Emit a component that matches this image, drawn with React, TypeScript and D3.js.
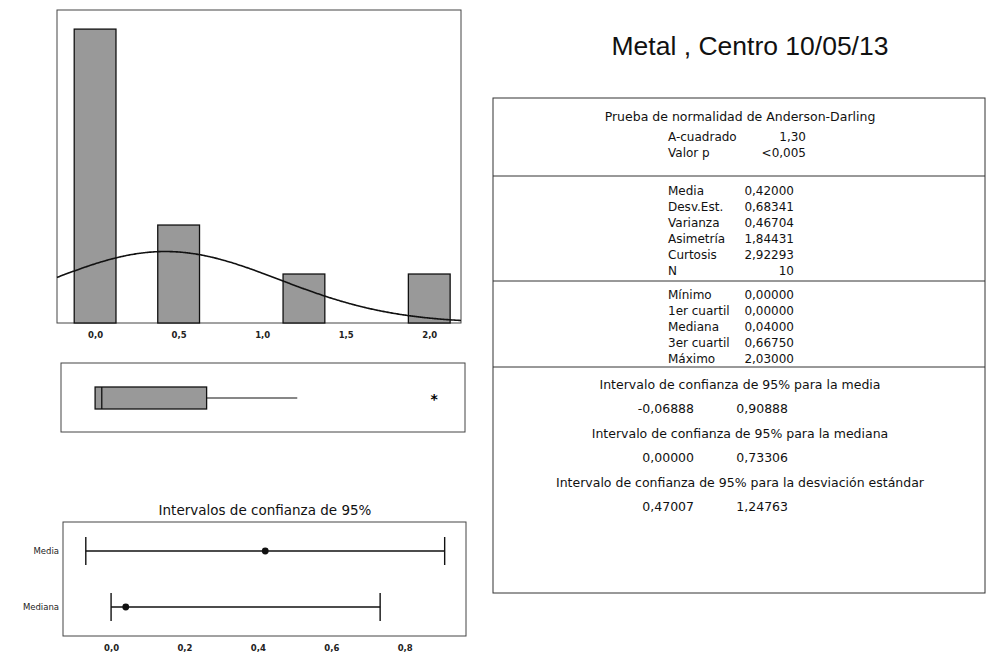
import { useEffect, useRef } from 'react';
import * as d3 from 'd3';

// histograma (ancho de clase 0,25)
const binCenters = [0, 0.5, 1.25, 2.0];
const binCounts = [6, 2, 1, 1];
const binWidth = 0.25;
const nObs = 10;
const mean = 0.42;
const stdDev = 0.68341;

// gráfica de caja
const boxQ1 = 0;
const boxMedian = 0.04;
const boxQ3 = 0.6675;
const whiskerHigh = 1.21;
const outliers = [2.03];

// intervalos de confianza
const ciLabels = ['Media', 'Mediana'];
const ciCenter = [0.42, 0.04];
const ciLow = [-0.06888, 0];
const ciHigh = [0.90888, 0.73306];

const histTicks = [0, 0.5, 1, 1.5, 2];
const ciTicks = [0, 0.2, 0.4, 0.6, 0.8];

// tabla de resumen
const adRows = [
  ['A-cuadrado', '1,30'],
  ['Valor p', '<0,005'],
];
const momentRows = [
  ['Media', '0,42000'],
  ['Desv.Est.', '0,68341'],
  ['Varianza', '0,46704'],
  ['Asimetría', '1,84431'],
  ['Curtosis', '2,92293'],
  ['N', '10'],
];
const quantRows = [
  ['Mínimo', '0,00000'],
  ['1er cuartil', '0,00000'],
  ['Mediana', '0,04000'],
  ['3er cuartil', '0,66750'],
  ['Máximo', '2,03000'],
];
const intervalRows = [
  ['Intervalo de confianza de 95% para la media', '-0,06888', '0,90888'],
  ['Intervalo de confianza de 95% para la mediana', '0,00000', '0,73306'],
  ['Intervalo de confianza de 95% para la desviación estándar', '0,47007', '1,24763'],
];

const FONT = '"DejaVu Sans", Verdana, sans-serif';

const App: React.FC = () => {
  const svgRef = useRef<SVGSVGElement | null>(null);

  useEffect(() => {
    if (svgRef.current === null) return;
    const svg = d3.select(svgRef.current);
    svg.selectAll('*').remove();

    const es = d3.formatLocale({ decimal: ',', thousands: '.', grouping: [3], currency: ['', ''] });
    const fmt1 = es.format('.1f');

    svg.append('rect').attr('width', 989).attr('height', 666).attr('fill', '#fff');

    // ---------- Histograma ----------
    const hx0 = 57, hx1 = 461, hy0 = 10, hy1 = 323;
    const x = d3.scaleLinear().domain([-0.228, 2.19]).range([hx0, hx1]);
    const y = d3.scaleLinear().domain([0, 6.39]).range([hy1, hy0]);

    svg.append('rect')
      .attr('x', hx0).attr('y', hy0)
      .attr('width', hx1 - hx0).attr('height', hy1 - hy0)
      .attr('fill', 'none').attr('stroke', '#444').attr('stroke-width', 1);

    svg.selectAll('.bar')
      .data(binCenters)
      .enter()
      .append('rect')
      .attr('class', 'bar')
      .attr('x', (d) => x(d - binWidth / 2))
      .attr('y', (_d, i) => y(binCounts[i]))
      .attr('width', (d) => x(d + binWidth / 2) - x(d - binWidth / 2))
      .attr('height', (_d, i) => y(0) - y(binCounts[i]))
      .attr('fill', '#999')
      .attr('stroke', '#111')
      .attr('stroke-width', 1.3);

    // curva normal ajustada
    const curveX = d3.range(0, 201).map((i) => -0.228 + (i * (2.19 + 0.228)) / 200);
    const dens = (v: number) =>
      (nObs * binWidth * Math.exp(-0.5 * ((v - mean) / stdDev) ** 2)) / (stdDev * Math.sqrt(2 * Math.PI));
    const line = d3.line<number>().x((d) => x(d)).y((d) => y(dens(d))).curve(d3.curveBasis);
    svg.append('path')
      .attr('d', line(curveX) ?? '')
      .attr('fill', 'none')
      .attr('stroke', '#111')
      .attr('stroke-width', 1.6);

    const histAxis = svg.append('g').attr('transform', `translate(0,${hy1})`);
    histAxis.call(d3.axisBottom(x).tickValues(histTicks).tickSize(0).tickPadding(9).tickFormat((d) => fmt1(d as number)));
    histAxis.select('.domain').remove();
    histAxis.selectAll('.tick text')
      .style('font-family', FONT).style('font-size', '8.5px').style('font-weight', 'bold').attr('fill', '#222');

    // ---------- Gráfica de caja ----------
    const bx0 = 61, bx1 = 465, by0 = 363, by1 = 432;
    const bMid = 398;
    svg.append('rect')
      .attr('x', bx0).attr('y', by0)
      .attr('width', bx1 - bx0).attr('height', by1 - by0)
      .attr('fill', 'none').attr('stroke', '#444').attr('stroke-width', 1);

    svg.append('rect')
      .attr('x', x(boxQ1)).attr('y', bMid - 11)
      .attr('width', x(boxQ3) - x(boxQ1)).attr('height', 22)
      .attr('fill', '#999').attr('stroke', '#111').attr('stroke-width', 1.3);
    svg.append('line')
      .attr('x1', x(boxMedian)).attr('x2', x(boxMedian))
      .attr('y1', bMid - 11).attr('y2', bMid + 11)
      .attr('stroke', '#111').attr('stroke-width', 1.3);
    svg.append('line')
      .attr('x1', x(boxQ3)).attr('x2', x(whiskerHigh))
      .attr('y1', bMid).attr('y2', bMid)
      .attr('stroke', '#111').attr('stroke-width', 1.2);
    svg.selectAll('.outlier')
      .data(outliers)
      .enter()
      .append('text')
      .attr('class', 'outlier')
      .attr('x', (d) => x(d))
      .attr('y', bMid + 6)
      .attr('text-anchor', 'middle')
      .style('font-family', FONT).style('font-size', '14px').style('font-weight', 'bold')
      .text('*');

    // ---------- Intervalos de confianza ----------
    const cx0 = 63, cx1 = 466, cy0 = 522, cy1 = 636;
    const cx = d3.scaleLinear().domain([-0.131, 0.967]).range([cx0, cx1]);
    const cy = d3.scalePoint<string>().domain(ciLabels).range([551, 607]);

    svg.append('text')
      .attr('x', 265).attr('y', 515)
      .attr('text-anchor', 'middle')
      .style('font-family', FONT).style('font-size', '13.5px').attr('fill', '#111')
      .text('Intervalos de confianza de 95%');

    svg.append('rect')
      .attr('x', cx0).attr('y', cy0)
      .attr('width', cx1 - cx0).attr('height', cy1 - cy0)
      .attr('fill', 'none').attr('stroke', '#444').attr('stroke-width', 1);

    const ci = svg.selectAll('.ci').data(ciLabels).enter().append('g').attr('class', 'ci');
    ci.append('line')
      .attr('x1', (_d, i) => cx(ciLow[i])).attr('x2', (_d, i) => cx(ciHigh[i]))
      .attr('y1', (d) => cy(d)!).attr('y2', (d) => cy(d)!)
      .attr('stroke', '#111').attr('stroke-width', 1.4);
    ci.append('line')
      .attr('x1', (_d, i) => cx(ciLow[i])).attr('x2', (_d, i) => cx(ciLow[i]))
      .attr('y1', (d) => cy(d)! - 14).attr('y2', (d) => cy(d)! + 14)
      .attr('stroke', '#111').attr('stroke-width', 1.4);
    ci.append('line')
      .attr('x1', (_d, i) => cx(ciHigh[i])).attr('x2', (_d, i) => cx(ciHigh[i]))
      .attr('y1', (d) => cy(d)! - 14).attr('y2', (d) => cy(d)! + 14)
      .attr('stroke', '#111').attr('stroke-width', 1.4);
    ci.append('circle')
      .attr('cx', (_d, i) => cx(ciCenter[i])).attr('cy', (d) => cy(d)!)
      .attr('r', 3.4).attr('fill', '#111');

    const ciAxisY = svg.append('g').attr('transform', `translate(${cx0},0)`);
    ciAxisY.call(d3.axisLeft(cy).tickSize(0).tickPadding(4));
    ciAxisY.select('.domain').remove();
    ciAxisY.selectAll('.tick text')
      .style('font-family', FONT).style('font-size', '8.5px').attr('fill', '#222');

    const ciAxisX = svg.append('g').attr('transform', `translate(0,${cy1})`);
    ciAxisX.call(d3.axisBottom(cx).tickValues(ciTicks).tickSize(0).tickPadding(9).tickFormat((d) => fmt1(d as number)));
    ciAxisX.select('.domain').remove();
    ciAxisX.selectAll('.tick text')
      .style('font-family', FONT).style('font-size', '8.5px').style('font-weight', 'bold').attr('fill', '#222');

    // ---------- Título ----------
    svg.append('text')
      .attr('x', 750).attr('y', 55)
      .attr('text-anchor', 'middle')
      .style('font-family', '"Liberation Sans", Arial, sans-serif').style('font-size', '26.5px').attr('fill', '#111')
      .text('Metal , Centro 10/05/13');

    // ---------- Tabla ----------
    const tx0 = 493, tx1 = 985, ty0 = 98, ty1 = 593;
    const tMid = 740;
    const labelX = 668;
    svg.append('rect')
      .attr('x', tx0).attr('y', ty0)
      .attr('width', tx1 - tx0).attr('height', ty1 - ty0)
      .attr('fill', 'none').attr('stroke', '#333').attr('stroke-width', 1);

    const sepY = [176, 281, 367];
    svg.selectAll('.sep')
      .data(sepY)
      .enter()
      .append('line')
      .attr('class', 'sep')
      .attr('x1', tx0).attr('x2', tx1)
      .attr('y1', (d) => d).attr('y2', (d) => d)
      .attr('stroke', '#333').attr('stroke-width', 1);

    const txt = (xp: number, yp: number, s: string, anchor = 'start', size = 12.5) =>
      svg.append('text')
        .attr('x', xp).attr('y', yp)
        .attr('text-anchor', anchor)
        .style('font-family', FONT).style('font-size', `${size}px`).attr('fill', '#111')
        .text(s);

    txt(tMid, 121, 'Prueba de normalidad de Anderson-Darling', 'middle');
    adRows.forEach((r, i) => {
      txt(labelX, 141 + i * 16, r[0], 'start', 12);
      txt(806, 141 + i * 16, r[1], 'end', 12);
    });
    momentRows.forEach((r, i) => {
      txt(labelX, 195 + i * 16, r[0], 'start', 12);
      txt(794, 195 + i * 16, r[1], 'end', 12);
    });
    quantRows.forEach((r, i) => {
      txt(labelX, 299 + i * 16, r[0], 'start', 12);
      txt(794, 299 + i * 16, r[1], 'end', 12);
    });
    intervalRows.forEach((r, i) => {
      const yp = 389 + i * 49;
      txt(tMid, yp, r[0], 'middle');
      txt(694, yp + 24, r[1], 'end');
      txt(788, yp + 24, r[2], 'end');
    });
  }, []);

  return (
    <svg
      ref={svgRef}
      width={989}
      height={666}
      style={{ position: 'absolute', left: 0, top: 0, display: 'block' }}
    ></svg>
  );
};

export default App;
